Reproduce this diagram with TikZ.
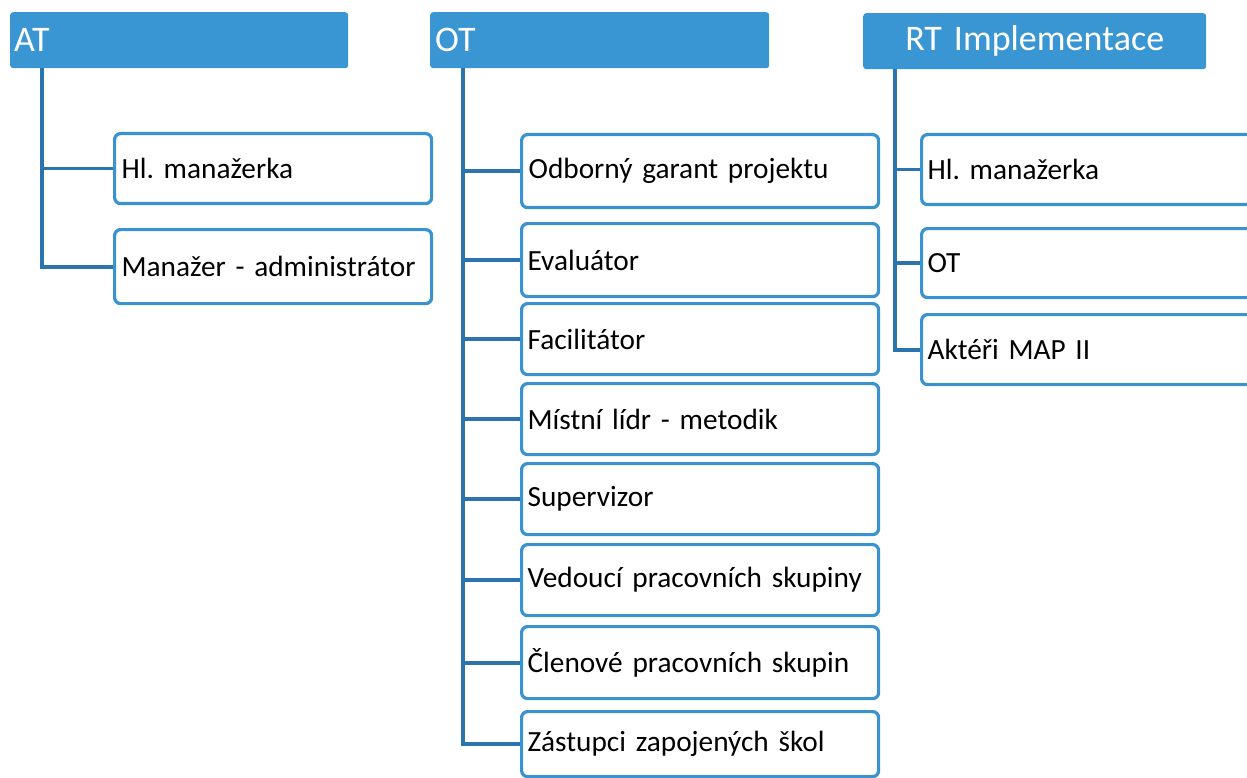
\documentclass[tikz,border=0pt]{standalone}
\usepackage{fontspec}
\setmainfont{Carlito}
\frenchspacing
\definecolor{hdrblue}{HTML}{3A96D2}
\definecolor{boxblue}{HTML}{3A93CF}
\definecolor{linkblue}{HTML}{2B74AE}
\begin{document}
\begin{tikzpicture}[x=1pt,y=-1pt,
  hdr/.style={fill=hdrblue, rounded corners=3pt, anchor=north west, inner sep=0pt,
     text=white, font=\fontsize{36}{40}\selectfont},
  child/.style={draw=boxblue, line width=3.2pt, fill=white, rounded corners=6pt,
     anchor=north west, inner sep=0pt, font=\fontsize{29.3}{32}\selectfont, text=black, align=left},
  conn/.style={draw=linkblue, line width=3.8pt}]
\useasboundingbox (0,0) rectangle (1247,778);
\clip (0,0) rectangle (1247,778);
\fill[white] (0,0) rectangle (1247,778);

% headers
\node[hdr, minimum width=338pt, minimum height=56pt, text width=338pt, align=left] (at) at (10,12) {\hspace*{4pt}AT};
\node[hdr, minimum width=339pt, minimum height=56pt, text width=339pt, align=left] (ot) at (430,12) {\hspace*{5pt}OT};
\node[hdr, minimum width=343pt, minimum height=56pt, text width=343pt, align=center] (rt) at (863,13) {RT Implementace};

% AT children
\node[child, minimum width=317pt, minimum height=70pt, text width=317pt] (at1) at (113,132) {\hspace*{7pt}Hl. manažerka};
\node[child, minimum width=317pt, minimum height=74pt, text width=317pt] (at2) at (113,228) {\hspace*{7pt}Manažer - administrátor};

% OT children
\node[child, minimum width=357pt, minimum height=73pt, text width=357pt] (ot1) at (520,133) {\hspace*{7pt}Odborný garant projektu};
\node[child, minimum width=357pt, minimum height=73pt, text width=357pt] (ot2) at (520,222) {\hspace*{6pt}Evaluátor};
\node[child, minimum width=357pt, minimum height=71pt, text width=357pt] (ot3) at (520,302) {\hspace*{6pt}Facilitátor};
\node[child, minimum width=357pt, minimum height=71pt, text width=357pt] (ot4) at (520,382) {\hspace*{6pt}Místní lídr - metodik};
\node[child, minimum width=357pt, minimum height=71pt, text width=357pt] (ot5) at (520,462) {\hspace*{6pt}Supervizor};
\node[child, minimum width=357pt, minimum height=71pt, text width=357pt] (ot6) at (520,543) {\hspace*{6pt}Vedoucí pracovních skupiny};
\node[child, minimum width=357pt, minimum height=72pt, text width=357pt] (ot7) at (520,625) {\hspace*{6pt}Členové pracovních skupin};
\node[child, minimum width=357pt, minimum height=65pt, text width=357pt] (ot8) at (520,710) {\hspace*{6pt}Zástupci zapojených škol};

% RT children
\node[child, minimum width=360pt, minimum height=70pt, text width=360pt] (rt1) at (920,133) {\hspace*{6pt}Hl. manažerka};
\node[child, minimum width=360pt, minimum height=69pt, text width=360pt] (rt2) at (920,227) {\hspace*{6pt}OT};
\node[child, minimum width=360pt, minimum height=70pt, text width=360pt] (rt3) at (920,313) {\hspace*{6pt}Aktéři MAP II};

% connectors
\coordinate (atroot) at ([xshift=32pt]at.south west);
\coordinate (otroot) at ([xshift=33pt]ot.south west);
\coordinate (rtroot) at ([xshift=32pt]rt.south west);
\foreach \c in {at1,at2} \draw[conn] (atroot) |- (\c.west);
\foreach \c in {ot1,ot2,ot3,ot4,ot5,ot6,ot7,ot8} \draw[conn] (otroot) |- (\c.west);
\foreach \c in {rt1,rt2,rt3} \draw[conn] (rtroot) |- (\c.west);
\end{tikzpicture}
\end{document}
